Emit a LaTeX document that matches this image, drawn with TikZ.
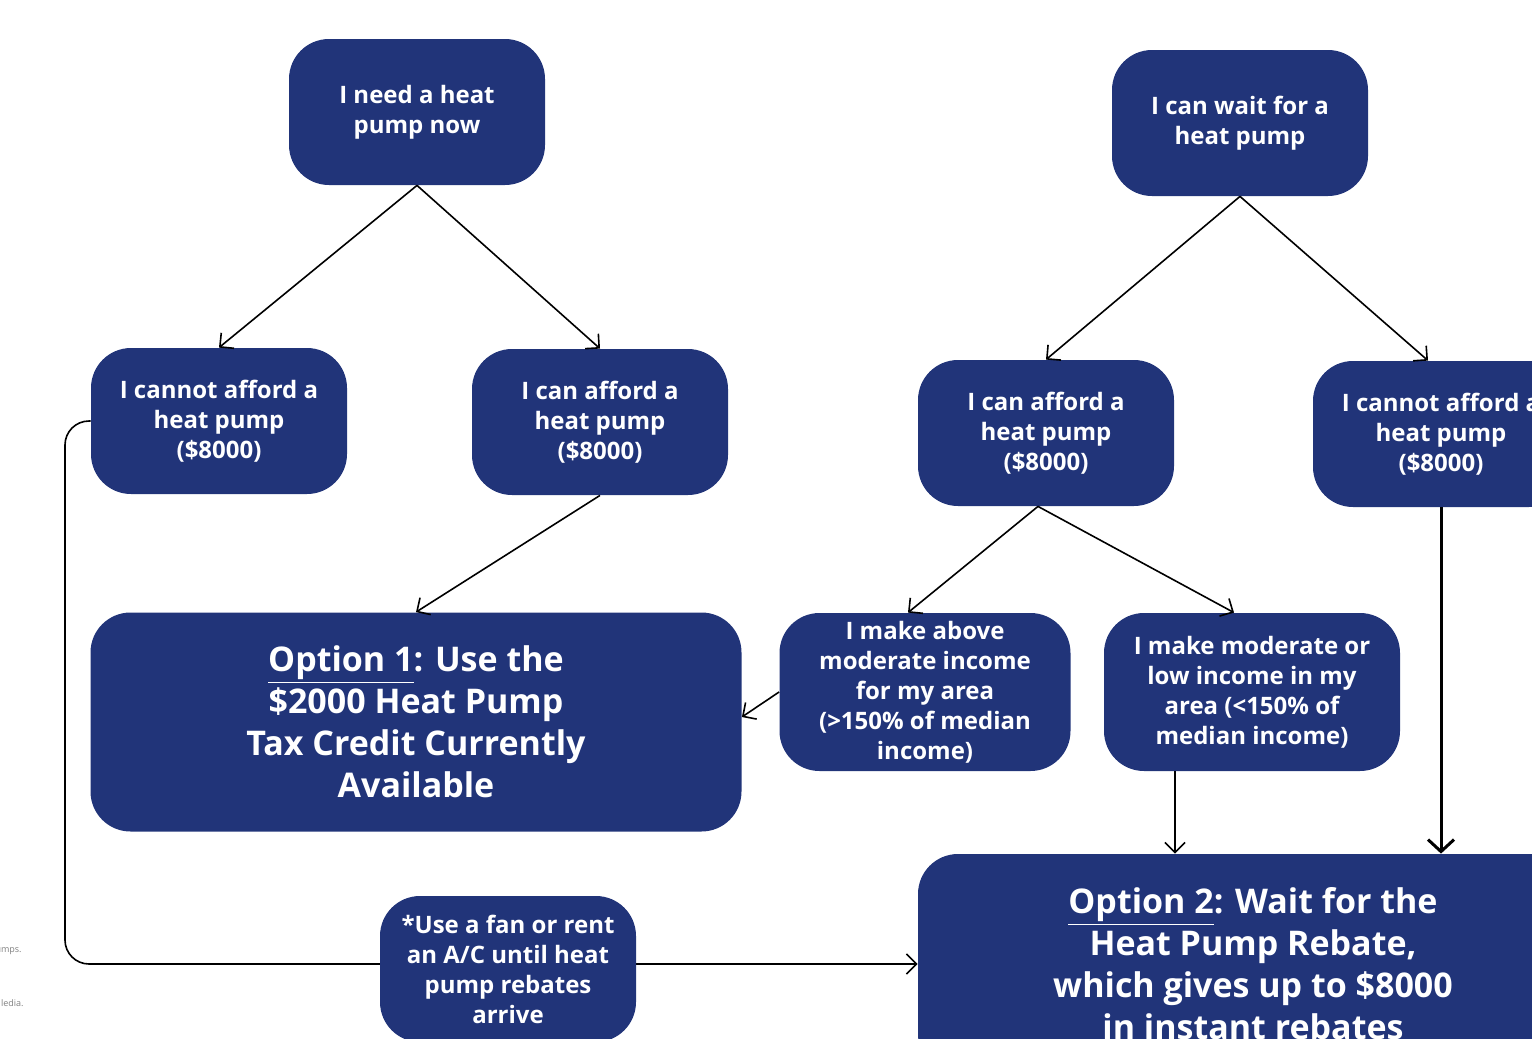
\documentclass[tikz,border=0pt]{standalone}
\usepackage{fontspec}
\setmainfont{Open Sans}
\usetikzlibrary{arrows.meta}
\definecolor{navy}{HTML}{213479}
\begin{document}
\begin{tikzpicture}[x=0.5pt,y=-0.5pt,
    box/.style={rectangle,rounded corners=20pt,fill=navy,text=white,
        font=\fontsize{12}{15}\selectfont\bfseries,align=center,
        minimum width=128pt,minimum height=73pt,inner sep=0pt},
    bigbox/.style={box,font=\fontsize{17}{21}\selectfont\bfseries},
    arr/.style={line width=0.8pt,-{Straight Barb[length=5pt,width=10pt]}},
    thickarr/.style={line width=1.5pt,-{Straight Barb[length=6pt,width=13pt]}}]
    \useasboundingbox (0,0) rectangle (1532,1039);
    \clip (0,0) rectangle (1532,1039);
    \node[box] (1) at(417,112){I need a heat\\pump now};
    \node[box] (2) at(1240,123){I can wait for a\\heat pump};
    \node[box] (3) at(219,421){I cannot afford a\\heat pump\\(\$8000)};
    \node[box] (4) at(600,422){I can afford a\\heat pump\\(\$8000)};
    \node[box] (5) at(1046,433){I can afford a\\heat pump\\(\$8000)};
    \node[box] (6) at(1441,434){I cannot afford a\\heat pump\\(\$8000)};
    \node[bigbox,minimum width=325.5pt,minimum height=109.5pt] (op1) at(416,722)
        {\underline{Option 1}: Use the\\\$2000 Heat Pump\\Tax Credit Currently\\Available};
    \node[box,minimum width=145.5pt,minimum height=79pt] (7) at(925,692)
        {I make above\\moderate income\\for my area\\(>150\% of median\\income)};
    \node[box,minimum width=148pt,minimum height=79pt] (8) at(1252,692)
        {I make moderate or\\low income in my\\area (<150\% of\\median income)};
    \node[bigbox,minimum width=335pt,minimum height=110pt] (op2) at(1253,964)
        {\underline{Option 2}: Wait for the\\Heat Pump Rebate,\\which gives up to \$8000\\in instant rebates};
    \draw[arr] (1.south) --(3.north);
    \draw[arr] (1.south) --(4.north);
    \draw[arr] (2.south) --(5.north);
    \draw[arr] (2.south) --([xshift=-6.5pt]6.north);
    \draw[arr] (4.south) --(op1.north);
    \draw[arr] ([xshift=-4pt]5.south) --([xshift=-8.5pt]7.north);
    \draw[arr] ([xshift=-4pt]5.south) --([xshift=-9pt]8.north);
    \draw[arr] (7.west) --([yshift=2.5pt]op1.east);
    \draw[arr] ([xshift=-38.5pt]8.south) --([xshift=-38.5pt]8.south |- op2.north);
    \draw[thickarr] (6.south) --(6.south |- op2.north);
    % loop under the fan box
    \coordinate (c) at(65,964);
    \draw[arr,rounded corners=12pt] (3.west) -| (c) --(op2.west);
    \node[box,minimum height=73pt] (9) at(508,969)
        {*Use a fan or rent\\an A/C until heat\\pump rebates\\arrive};
    \node[anchor=east,inner sep=0pt,text=gray,font=\fontsize{4.5}{6}\selectfont] (10) at(22,951){umps.};
    \node[anchor=east,inner sep=0pt,text=gray,font=\fontsize{4.5}{6}\selectfont] (11) at(24,1003){ledia.};
\end{tikzpicture}
\end{document}
